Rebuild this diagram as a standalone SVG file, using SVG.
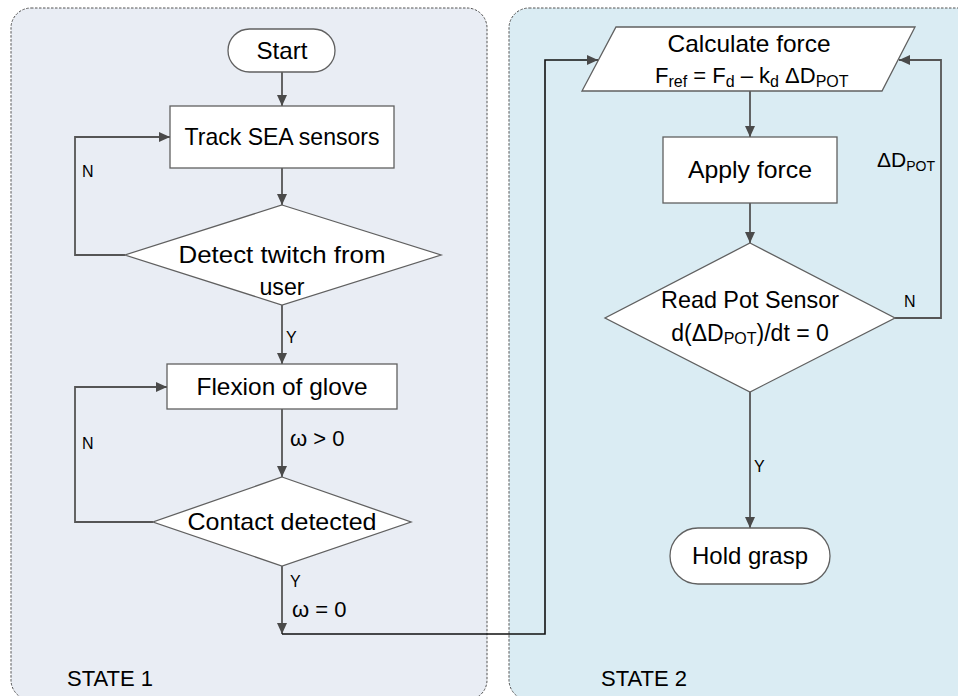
<svg xmlns="http://www.w3.org/2000/svg" width="958" height="696" viewBox="0 0 958 696">
<defs>
<marker id="arr" markerWidth="12" markerHeight="10" refX="11" refY="5" orient="auto" markerUnits="userSpaceOnUse">
<path d="M0,0 L11,5 L0,10 Z" fill="#4a4a4a"/>
</marker>
<style>
text{font-family:"Liberation Sans",Arial,sans-serif;fill:#000}
.node{fill:#fff;stroke:#606060;stroke-width:1.3}
.t{font-size:24px;text-anchor:middle}
.lbl{font-size:16px}
.om{font-size:22px}
.st{font-size:22px}
.conn{fill:none;stroke:#555;stroke-width:1.8}
.blk{fill:none;stroke:#111;stroke-width:1.6}
.panel{stroke:#555;stroke-width:1;stroke-dasharray:2.5,1.5}
</style>
</defs>
<g id="panels">
<rect id="state1" class="panel" x="11" y="8" width="476" height="692" rx="20" fill="#E9EDF4"/>
<rect id="state2" class="panel" x="509" y="8" width="470" height="692" rx="20" fill="#DAECF3"/>
<text class="st" x="67" y="686" textLength="86" lengthAdjust="spacingAndGlyphs">STATE 1</text>
<text class="st" x="601" y="686" textLength="86" lengthAdjust="spacingAndGlyphs">STATE 2</text>
</g>
<g id="connectors">
<path class="conn" d="M282,72 V106" marker-end="url(#arr)"/>
<path class="conn" d="M282,168 V205" marker-end="url(#arr)"/>
<path class="conn" d="M125,255 H75 V137 H170" marker-end="url(#arr)"/>
<path class="conn" d="M282,305 V364" marker-end="url(#arr)"/>
<path class="conn" d="M282,409 V477" marker-end="url(#arr)"/>
<path class="conn" d="M153,522 H75 V387 H167" marker-end="url(#arr)"/>
<path class="conn" d="M282,566 V634" marker-end="url(#arr)"/>
<path class="blk" d="M282,634 H545 V60 H598" marker-end="url(#arr)"/>
<path class="conn" d="M750,91 V137" marker-end="url(#arr)"/>
<path class="conn" d="M750,203 V243" marker-end="url(#arr)"/>
<path class="conn" d="M895,318 H941 V60 H899" marker-end="url(#arr)"/>
<path class="conn" d="M750,392 V528" marker-end="url(#arr)"/>
<text class="lbl" x="82" y="177">N</text>
<text class="lbl" x="286" y="343">Y</text>
<text class="lbl" x="82" y="449">N</text>
<text class="om" x="290" y="446">ω &gt; 0</text>
<text class="lbl" x="290" y="587">Y</text>
<text class="om" x="292" y="617">ω = 0</text>
<text class="lbl" x="904" y="307">N</text>
<text class="lbl" x="754" y="472">Y</text>
<text x="877" y="167" font-size="21">ΔD<tspan font-size="14" dy="4">POT</tspan></text>
</g>
<g id="start">
<rect class="node" x="228" y="29" width="107" height="43" rx="21.5"/>
<text class="t" x="282" y="59" textLength="51" lengthAdjust="spacingAndGlyphs">Start</text>
</g>
<g id="track">
<rect class="node" x="170" y="106" width="224" height="62"/>
<text class="t" x="282" y="145" textLength="195" lengthAdjust="spacingAndGlyphs">Track SEA sensors</text>
</g>
<g id="detect">
<polygon class="node" points="282,205 441,255 282,305 125,255"/>
<text class="t" x="282" y="263" textLength="207" lengthAdjust="spacingAndGlyphs">Detect twitch from</text>
<text class="t" x="282" y="295" textLength="45" lengthAdjust="spacingAndGlyphs">user</text>
</g>
<g id="flexion">
<rect class="node" x="167" y="364" width="230" height="45"/>
<text class="t" x="282" y="395" textLength="171" lengthAdjust="spacingAndGlyphs">Flexion of glove</text>
</g>
<g id="contact">
<polygon class="node" points="282,477 411,522 282,566 153,522"/>
<text class="t" x="282" y="530" textLength="189" lengthAdjust="spacingAndGlyphs">Contact detected</text>
</g>
<g id="calc">
<polygon class="node" points="616,27 915,27 882,91 582,91"/>
<text class="t" x="749" y="52" textLength="163" lengthAdjust="spacingAndGlyphs">Calculate force</text>
<text x="655" y="83" font-size="22">F<tspan font-size="16" dy="4">ref</tspan><tspan dy="-4"> = F</tspan><tspan font-size="16" dy="4">d</tspan><tspan dy="-4"> – k</tspan><tspan font-size="16" dy="4">d</tspan><tspan dy="-4"> ΔD</tspan><tspan font-size="16" dy="4">POT</tspan></text>
</g>
<g id="apply">
<rect class="node" x="663" y="137" width="174" height="66"/>
<text class="t" x="750" y="178" textLength="124" lengthAdjust="spacingAndGlyphs">Apply force</text>
</g>
<g id="readpot">
<polygon class="node" points="750,243 895,318 750,392 605,318"/>
<text class="t" x="750" y="308" textLength="178" lengthAdjust="spacingAndGlyphs">Read Pot Sensor</text>
<text x="750" y="341" font-size="23" text-anchor="middle">d(ΔD<tspan font-size="16" dy="3">POT</tspan><tspan dy="-3">)/dt = 0</tspan></text>
</g>
<g id="hold">
<rect class="node" x="670" y="528" width="160" height="56" rx="28"/>
<text class="t" x="750" y="564" textLength="116" lengthAdjust="spacingAndGlyphs">Hold grasp</text>
</g>
</svg>
